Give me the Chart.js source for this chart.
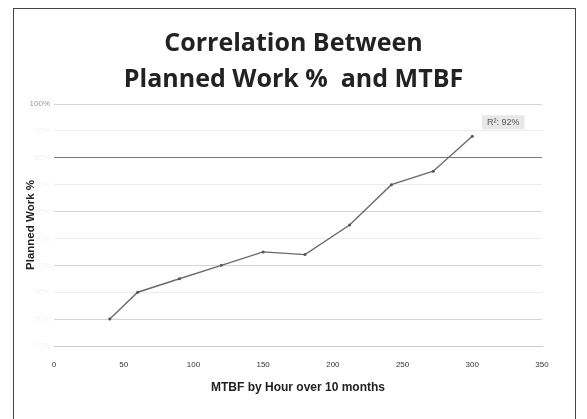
<!DOCTYPE html>
<html>
<head>
<meta charset="utf-8">
<script src="https://cdn.jsdelivr.net/npm/chart.js@4/dist/chart.umd.min.js"></script>
<style>
  html, body { margin: 0; padding: 0; background: #fff; }
  #wrap { position: relative; width: 587px; height: 419px; overflow: hidden; }
  #frame { position: absolute; left: 13px; top: 8px; width: 563px; height: 430px; border: 1.5px solid #444; box-sizing: border-box; }
  canvas { position: absolute; left: 0; top: 0; }
</style>
</head>
<body>
<div id="wrap">
  <div id="frame"></div>
  <canvas id="chart" width="587" height="419"></canvas>
</div>
<script>
// Chart data
const mtbfHours = [40, 60, 90, 120, 150, 180, 212, 242, 272, 300];
const plannedWork = [20, 30, 35, 40, 45, 44, 55, 70, 75, 88];
const titleLines = ['Correlation Between', 'Planned Work %  and MTBF'];
const fitLabel = 'R\u00b2: 92%';

// Small label box next to the last point
const fitLabelPlugin = {
    id: 'fitLabel',
    afterDatasetsDraw(chart) {
        const pts = chart.getDatasetMeta(0).data;
        const last = pts[pts.length - 1];
        const ctx = chart.ctx;
        ctx.save();
        ctx.font = '9px "Liberation Sans", Arial, sans-serif';
        const w = ctx.measureText(fitLabel).width + 10;
        const cx = last.x + 31, cy = last.y - 14;
        ctx.fillStyle = '#e8e8e8';
        ctx.fillRect(cx - w / 2, cy - 7, w, 14);
        ctx.fillStyle = '#555';
        ctx.textAlign = 'center';
        ctx.textBaseline = 'middle';
        ctx.fillText(fitLabel, cx, cy);
        ctx.restore();
    }
};

const chart = new Chart(document.getElementById('chart').getContext('2d'), {
    type: 'line',
    data: {
        datasets: [{
            data: mtbfHours.map((x, i) => ({ x: x, y: plannedWork[i] })),
            borderColor: '#6a6a6a',
            borderWidth: 1.4,
            pointRadius: 1.5,
            pointBackgroundColor: '#555',
            pointBorderWidth: 0,
            tension: 0,
            fill: false
        }]
    },
    options: {
        responsive: false,
        animation: false,
        layout: { padding: 0 },
        plugins: {
            legend: { display: false },
            tooltip: { enabled: false },
            title: {
                display: true,
                text: titleLines,
                color: '#222',
                font: { family: '"Open Sans", sans-serif', size: 25, weight: 'bold', lineHeight: 1.44 },
                padding: { top: 26, bottom: 6 }
            }
        },
        scales: {
            x: {
                type: 'linear',
                min: 0,
                max: 350,
                ticks: {
                    stepSize: 50,
                    color: '#333',
                    padding: 6,
                    font: { family: '"Liberation Sans", Arial, sans-serif', size: 8 }
                },
                grid: { display: false },
                border: { color: '#ccc', width: 1 },
                title: {
                    display: true,
                    text: 'MTBF by Hour over 10 months',
                    color: '#222',
                    font: { family: '"Liberation Sans", Arial, sans-serif', size: 12, weight: 'bold' },
                    padding: { top: 24, bottom: 24 }
                },
                afterFit(scale) { scale.height = 73; }
            },
            y: {
                min: 10,
                max: 100,
                ticks: {
                    stepSize: 10,
                    padding: 4,
                    color: ctx => ctx.tick.value === 100 ? '#999' : '#f3f3f3',
                    font: { family: '"Liberation Sans", Arial, sans-serif', size: 8 },
                    callback: v => v + '%'
                },
                grid: {
                    drawTicks: false,
                    color: ctx => ctx.tick.value === 80 ? '#777' : (ctx.tick.value % 20 === 0 ? '#d4d4d4' : '#ececec'),
                    lineWidth: 1
                },
                border: { display: false },
                title: {
                    display: true,
                    text: 'Planned Work %',
                    color: '#222',
                    font: { family: '"Liberation Sans", Arial, sans-serif', size: 11.5, weight: 'bold' },
                    padding: { top: 24, bottom: 24 }
                },
                afterFit(scale) { scale.width = 54; }
            },
            // empty right axis, only reserves the right margin
            yRight: {
                position: 'right',
                min: 10,
                max: 100,
                ticks: { display: false },
                grid: { display: false },
                border: { display: false },
                afterFit(scale) { scale.width = 45; }
            }
        }
    },
    plugins: [fitLabelPlugin]
});
</script>
</body>
</html>
